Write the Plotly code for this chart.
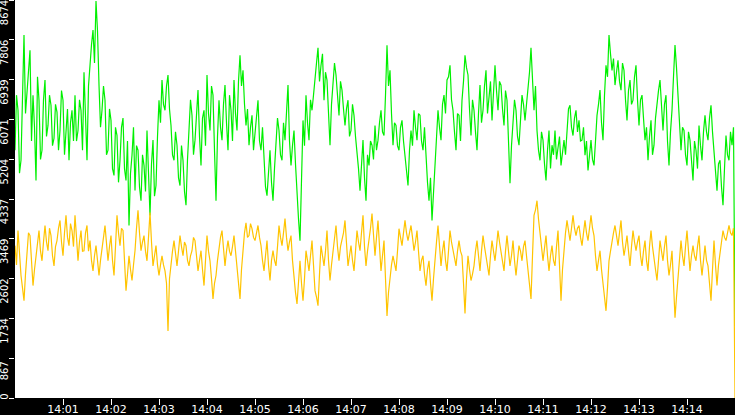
import pandas as pd
import plotly.graph_objects as go

# samples every 1.875 s from 14:00:00 to 14:15:00
start_time = '2024-01-01 14:00:00'
end_time = '2024-01-01 14:15:00'
n_points = 481

green_vals = [
    5400, 6600, 6270, 4900, 5180, 6900, 7910, 6200, 6710, 7200, 7580, 5600, 6600, 5900, 4740, 7000, 6490, 5200, 5400, 6500,
    6930, 5700, 5940, 6600, 6380, 5500, 5660, 6400, 6230, 5400, 5830, 6700, 6490, 5300, 5940, 6300, 5180, 6000, 6270, 5600,
    6600, 5600, 5830, 6500, 6270, 5400, 7100, 6300, 5180, 6800, 7360, 7700, 8020, 7300, 8650, 8000, 6820, 5900, 6270, 6800,
    6490, 5300, 5400, 6300, 6050, 5000, 4850, 5900, 5720, 4700, 5180, 5900, 6100, 5000, 4740, 5600, 3760, 4900, 5290, 5900,
    4520, 5500, 5400, 4600, 4300, 5300, 5070, 4500, 5830, 5000, 3980, 5100, 5620, 4400, 4630, 5700, 6490, 6000, 6930, 6400,
    6270, 6800, 7040, 6300, 5940, 5300, 5180, 5800, 5510, 4800, 4630, 5500, 5180, 4500, 4200, 5200, 5830, 6500, 6160, 5300,
    5620, 6300, 6710, 5700, 5070, 6100, 6270, 5500, 7040, 6200, 5830, 6800, 6600, 5400, 4300, 5700, 6490, 5900, 5620, 6400,
    6820, 6000, 5400, 6600, 6270, 5600, 6930, 6200, 5830, 6900, 7470, 6800, 7140, 6400, 5940, 6300, 5510, 5900, 6160, 5400,
    5720, 6100, 6490, 5600, 5400, 5900, 5070, 4600, 4410, 5000, 5400, 4700, 4300, 5000, 5510, 6100, 5830, 5300, 5180, 6000,
    5620, 6300, 6820, 5600, 5070, 5500, 5830, 5100, 4300, 3900, 3430, 4700, 6050, 5500, 6600, 6000, 5620, 6500, 6270, 6600,
    7040, 7300, 7630, 6900, 7250, 7500, 6490, 7100, 6930, 6300, 5510, 6400, 6820, 7300, 7040, 6600, 6160, 6900, 6710, 6300,
    5940, 6300, 6490, 5700, 5830, 6400, 6160, 5700, 5400, 5000, 4520, 5200, 5620, 4800, 4300, 5300, 5070, 5600, 5510, 5200,
    5940, 5400, 5620, 6000, 6270, 5800, 5720, 6600, 7690, 6800, 7140, 6200, 5510, 6000, 5940, 5500, 5400, 5900, 6050, 5600,
    5290, 5000, 4630, 5400, 5830, 5500, 6270, 5900, 5620, 6200, 6160, 5600, 5400, 5900, 5180, 4700, 4300, 4800, 3870, 4500,
    4960, 5700, 6270, 5900, 5620, 6400, 6600, 6200, 6930, 7000, 7250, 6500, 6270, 5800, 5400, 6200, 6160, 5600, 6490, 6900,
    7470, 7200, 7040, 6300, 5720, 6500, 6270, 5800, 5400, 6200, 6820, 6000, 6270, 6800, 7140, 6200, 6600, 6900, 6050, 6600,
    7250, 6700, 6270, 6900, 6820, 6300, 5940, 6700, 6490, 5600, 4680, 5500, 5940, 6500, 6270, 5700, 5510, 6200, 6600, 6400,
    6050, 6400, 6710, 7100, 7630, 6900, 6270, 6800, 5830, 5400, 5180, 5800, 5620, 5100, 4740, 5400, 5830, 5000, 5510, 5300,
    5830, 5200, 5400, 5700, 5070, 5400, 5620, 5300, 5940, 6300, 6380, 5900, 5720, 6100, 6270, 5800, 6050, 5600, 5620, 5900,
    5290, 5600, 4960, 5300, 5620, 5200, 5070, 5600, 6160, 6400, 6710, 6000, 5620, 6600, 7250, 7000, 7910, 7500, 7140, 7400,
    6820, 7100, 7360, 6900, 6710, 7300, 7140, 6500, 6050, 6700, 6930, 6400, 6490, 7000, 7250, 6500, 5940, 6500, 6600, 6100,
    5620, 5900, 5180, 5700, 6050, 5300, 5510, 6100, 6490, 6700, 6930, 6200, 5830, 6400, 6600, 5600, 5070, 5800, 6270, 7000,
    7690, 7200, 6710, 6000, 5400, 5900, 5830, 5300, 5070, 5800, 5620, 5200, 4740, 5600, 5400, 5000, 5940, 5500, 5180, 5800,
    6160, 5800, 5620, 6100, 6380, 5800, 5400, 5000, 4520, 5100, 5180, 4600, 4200, 5000, 5720, 5300, 5180, 5800, 5510, 5900,
    1570,
]

yellow_vals = [
    3320, 2900, 3650, 3100, 2670, 2400, 2120, 2700, 3210, 3600, 3540, 3000, 2450, 2800, 3100, 3500, 3650, 3200, 2990, 3400,
    3760, 3400, 3210, 3700, 3540, 3100, 2880, 3300, 3430, 3700, 3870, 3400, 3100, 3600, 3980, 3500, 3320, 3800, 3650, 3300,
    3980, 3500, 2990, 3400, 3650, 3200, 3210, 3600, 3760, 3200, 3430, 3000, 2770, 3100, 3320, 3000, 2670, 3000, 3210, 3500,
    3760, 3300, 2990, 3300, 3540, 3000, 2670, 3300, 3980, 3600, 3320, 3700, 3650, 3000, 2340, 2700, 3100, 2800, 2560, 2900,
    3210, 3700, 4090, 3600, 3210, 3400, 3540, 3200, 2990, 3500, 4040, 3400, 2880, 3100, 3320, 2900, 2670, 2900, 3100, 2900,
    2770, 2500, 1460, 2600, 2990, 3200, 3430, 3100, 2880, 3200, 3540, 3300, 3100, 3400, 3320, 3000, 2880, 3100, 3210, 3500,
    3430, 3100, 2770, 3000, 3210, 2800, 2450, 3000, 3540, 3200, 2990, 2600, 2160, 2500, 2670, 3000, 3320, 3500, 3650, 3200,
    2880, 3200, 3430, 3200, 3100, 3300, 3540, 3200, 2880, 2500, 2160, 2800, 3320, 3600, 3820, 3500, 3540, 3800, 3690, 3500,
    3430, 3600, 3760, 3500, 3320, 3000, 2770, 3100, 3430, 2900, 2560, 3000, 3210, 3000, 2880, 3300, 3760, 3500, 3320, 3600,
    3910, 3500, 3210, 3400, 3540, 3000, 2560, 2300, 2050, 2600, 2990, 2500, 2120, 2600, 3210, 3000, 2770, 3100, 3430, 2900,
    2340, 2200, 2010, 2700, 3320, 3100, 2880, 3200, 3650, 3000, 2560, 2900, 3210, 3500, 3760, 3300, 2990, 3300, 3430, 3600,
    3870, 3300, 2880, 3100, 3320, 3000, 2770, 3200, 3650, 3400, 3210, 3600, 3980, 3300, 2880, 3200, 3430, 3700, 4020, 3500,
    3100, 3500, 3870, 3300, 2770, 3100, 3430, 2600, 1790, 2300, 2670, 2900, 3100, 2900, 2770, 3200, 3690, 3500, 3320, 3600,
    3870, 3600, 3430, 3600, 3760, 3500, 3210, 3400, 3650, 3200, 2770, 3000, 3100, 2700, 2450, 2800, 2990, 2500, 2120, 2600,
    3100, 3400, 3760, 3300, 2880, 3200, 3430, 3000, 2770, 3200, 3650, 3400, 3210, 3000, 2880, 3200, 3430, 3200, 3100, 2500,
    1840, 2600, 3100, 2800, 2560, 2700, 2880, 3200, 3430, 3100, 2770, 3200, 3540, 3300, 3100, 2800, 2670, 3100, 3430, 3200,
    2990, 3300, 3650, 3400, 3210, 3000, 2770, 3200, 3540, 3200, 2880, 3100, 3430, 3000, 2670, 3000, 3320, 3200, 2990, 3300,
    3430, 3100, 2770, 2500, 2160, 3100, 3980, 4100, 4300, 3900, 3650, 3300, 2990, 3300, 3540, 3100, 2770, 3100, 3320, 3000,
    2880, 3300, 3650, 2900, 2120, 2800, 3320, 3600, 3870, 3600, 3430, 3700, 3980, 3700, 3540, 3700, 3760, 3500, 3320, 3600,
    3870, 3600, 3430, 3700, 3980, 3700, 3540, 3100, 2770, 3000, 3210, 2800, 2450, 2200, 1900, 2400, 2990, 3200, 3430, 3600,
    3760, 3500, 3320, 3600, 3870, 3400, 3100, 3300, 3540, 3200, 2880, 3300, 3650, 3400, 3210, 3400, 3540, 3100, 2880, 3200,
    3430, 3000, 2770, 3300, 3650, 3300, 3100, 2800, 2560, 3000, 3430, 3200, 2990, 3300, 3540, 3000, 2670, 2900, 3210, 2500,
    1750, 2200, 2560, 3000, 3430, 3100, 2880, 3300, 3650, 3200, 2770, 3100, 3320, 3100, 2990, 3300, 3540, 3000, 2670, 3000,
    3320, 3000, 2880, 2500, 2120, 2800, 3430, 2900, 2450, 2900, 3210, 3400, 3650, 3500, 3430, 3600, 3760, 3600, 3540, 3700,
    0,
]

y_ticks = [0, 867, 1734, 2602, 3469, 4337, 5204, 6071, 6939, 7806, 8674]
y_max = 8674

times = pd.date_range(start_time, end_time, periods=n_points)
minute_ticks = pd.date_range('2024-01-01 14:01', '2024-01-01 14:14', freq='1min')

fig = go.Figure()
fig.add_trace(go.Scatter(x=times, y=green_vals, mode='lines',
                         line=dict(color='#00f000', width=1.2)))
fig.add_trace(go.Scatter(x=times, y=yellow_vals, mode='lines',
                         line=dict(color='#ffc400', width=1.2)))
# invisible trace just to carry the second y axis (holds the "0" label)
fig.add_trace(go.Scatter(x=[times[0]], y=[0], yaxis='y2', mode='lines',
                         line=dict(width=0), hoverinfo='skip'))

tick_font = dict(family='DejaVu Sans', size=10, color='white')

fig.update_layout(
    width=735,
    height=415,
    margin=dict(l=15, r=0, t=0, b=17),
    paper_bgcolor='black',
    plot_bgcolor='white',
    showlegend=False,
    xaxis=dict(
        range=[times[0], times[-1]],
        tickvals=minute_ticks,
        tickformat='%H:%M',
        ticks='outside', ticklen=6, tickcolor='white', tickwidth=1,
        ticklabelstandoff=-5,
        tickfont=dict(family='DejaVu Sans', size=11, color='white'),
        showgrid=False, zeroline=False, showline=False,
        automargin=False,
    ),
    yaxis=dict(
        range=[0, y_max],
        tickvals=y_ticks[1:],
        ticktext=[str(v) for v in y_ticks[1:]],
        tickangle=-90,
        ticklabelshift=14,
        ticklabelstandoff=-3,
        ticklabeloverflow='allow',
        ticks='outside', ticklen=5, tickcolor='white', tickwidth=1,
        tickfont=tick_font,
        showgrid=False, zeroline=False, showline=False,
        automargin=False,
    ),
    yaxis2=dict(
        range=[0, y_max],
        overlaying='y',
        side='left',
        tickvals=[y_ticks[0]],
        ticktext=[str(y_ticks[0])],
        tickangle=-90,
        ticklabelstandoff=-3,
        ticklabeloverflow='allow',
        ticks='outside', ticklen=5, tickcolor='white', tickwidth=1,
        tickfont=tick_font,
        showgrid=False, zeroline=False, showline=False,
        automargin=False,
    ),
)

fig.write_html('out.html', config={'displayModeBar': False},
               post_script="document.body.style.margin = '0px';")
